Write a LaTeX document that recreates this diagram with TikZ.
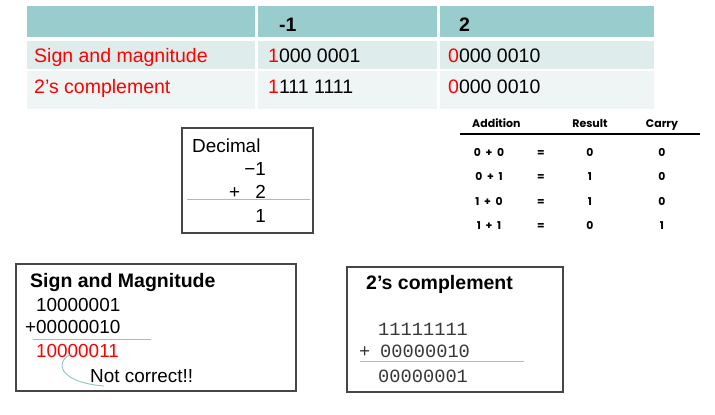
\documentclass[tikz,border=0pt]{standalone}
\usepackage{fontspec}
\setmainfont{Liberation Sans}
\newfontfamily\popfont{Poppins}
\newfontfamily\monofont{Liberation Mono}
\definecolor{hdr}{RGB}{153,204,204}
\definecolor{rowa}{RGB}{222,236,235}
\definecolor{rowb}{RGB}{238,245,244}
\definecolor{rule}{RGB}{140,200,200}
\definecolor{frame}{RGB}{70,70,70}
\definecolor{monotxt}{RGB}{55,55,55}
\newcommand\addsum[2]{#1\hspace{2.5bp} + \hspace{2.5bp}#2}
\begin{document}
\begin{tikzpicture}[x=1bp,y=-1bp,
  tx/.style={inner sep=0pt, anchor=base west},
  txe/.style={inner sep=0pt, anchor=base east},
  txc/.style={inner sep=0pt, anchor=base},
  big/.style={font=\fontsize{19.5bp}{23bp}\selectfont},
  bigb/.style={font=\fontsize{19.5bp}{23bp}\selectfont\bfseries},
  mid/.style={font=\fontsize{18.9bp}{22bp}\selectfont},
  mono/.style={font=\fontsize{18.7bp}{22bp}\selectfont\monofont, text=monotxt},
  addh/.style={font=\fontsize{11bp}{13bp}\selectfont\popfont\bfseries},
  addr/.style={font=\fontsize{10.8bp}{13bp}\selectfont\popfont\bfseries},
  boxframe/.style={draw=frame, line width=1.3bp},
  sumrule/.style={draw=rule, line width=0.9bp},
]
\useasboundingbox (0,0) rectangle (715,414);
\fill[white] (0,0) rectangle (715,414);

% ---- top table ----
\fill[hdr] (27,6) rectangle (255,37);
\fill[hdr] (258,6) rectangle (437,37);
\fill[hdr] (440,6) rectangle (654,37);
\fill[rowa] (27,41) rectangle (255,69);
\fill[rowa] (258,41) rectangle (437,69);
\fill[rowa] (440,41) rectangle (654,69);
\fill[rowb] (27,71) rectangle (255,109);
\fill[rowb] (258,71) rectangle (437,109);
\fill[rowb] (440,71) rectangle (654,109);

\node[tx,bigb] (h1) at (279,31) {-1};
\node[tx,bigb] (h2) at (459,31) {2};
\node[tx,big,text=red] (r1) at (34,62) {Sign and magnitude};
\node[tx,big] (r1a) at (268,62) {\textcolor{red}{1}000 0001};
\node[tx,big] (r1b) at (448,62) {\textcolor{red}{0}000 0010};
\node[tx,big,text=red] (r2) at (34,93) {2’s complement};
\node[tx,big] (r2a) at (268,93) {\textcolor{red}{1}111 1111};
\node[tx,big] (r2b) at (448,93) {\textcolor{red}{0}000 0010};

% ---- decimal box ----
\draw[boxframe] (182,128) rectangle (313,233);
\node[tx,mid] (dec) at (192,152) {Decimal};
\node[txe,mid] (dm1) at (266,175) {−1};
\node[tx,mid] (dplus) at (229,198) {+};
\node[txe,mid] (d2) at (266,198) {2};
\coordinate (dl1) at (187,199);
\coordinate (dl2) at (310,199);
\draw[sumrule] (dl1) -- (dl2);
\node[txe,mid] (d1) at (266,222) {1};

% ---- addition table ----
\node[tx,addh] (ah1) at (472,127) {Addition};
\node[txc,addh] (ah2) at (590,127) {Result};
\node[txc,addh] (ah3) at (662,127) {Carry};
\coordinate (al1) at (460,134);
\coordinate (al2) at (700,134);
\draw[line width=2bp] (al1) -- (al2);
\foreach \y/\a/\b/\r/\c [count=\i] in {156/0/0/0/0, 180.5/0/1/1/0, 205/1/0/1/0, 229.5/1/1/0/1}{
  \node[txc,addr] (aa\i) at (489,\y) {\addsum{\a}{\b}};
  \node[txc,addr] (ae\i) at (541,\y) {=};
  \node[txc,addr] (ar\i) at (590,\y) {\r};
  \node[txc,addr] (ac\i) at (662,\y) {\c};
}

% ---- sign and magnitude box ----
\draw[boxframe] (16,264) rectangle (296,391);
\node[tx,bigb] (smt) at (30,287) {Sign and Magnitude};
\node[tx,mid] (sm1) at (36,311) {10000001};
\node[tx,mid] (sm2) at (25,333) {+00000010};
\coordinate (sml1) at (33,339);
\coordinate (sml2) at (151,339);
\draw[sumrule] (sml1) -- (sml2);
\node[tx,mid,text=red] (sm3) at (36,357) {10000011};
\node[tx,mid] (nc) at (90,382) {Not correct!!};
\coordinate (cs) at (72,354);
\coordinate (ce) at (104,386);
\draw[sumrule] (cs) .. controls (55,360) and (56,382) .. (ce);

% ---- 2's complement box ----
\draw[boxframe] (347,267) rectangle (563,392);
\node[tx,bigb] (tct) at (366,289) {2’s complement};
\node[tx,mono] (tc1) at (378,335) {11111111};
\node[tx,mono] (tcp) at (359,357) {+};
\node[tx,mono] (tc2) at (380,357) {00000010};
\coordinate (tcl1) at (360,361);
\coordinate (tcl2) at (524,361);
\draw[sumrule] (tcl1) -- (tcl2);
\node[tx,mono] (tc3) at (378,382) {00000001};
\end{tikzpicture}
\end{document}
